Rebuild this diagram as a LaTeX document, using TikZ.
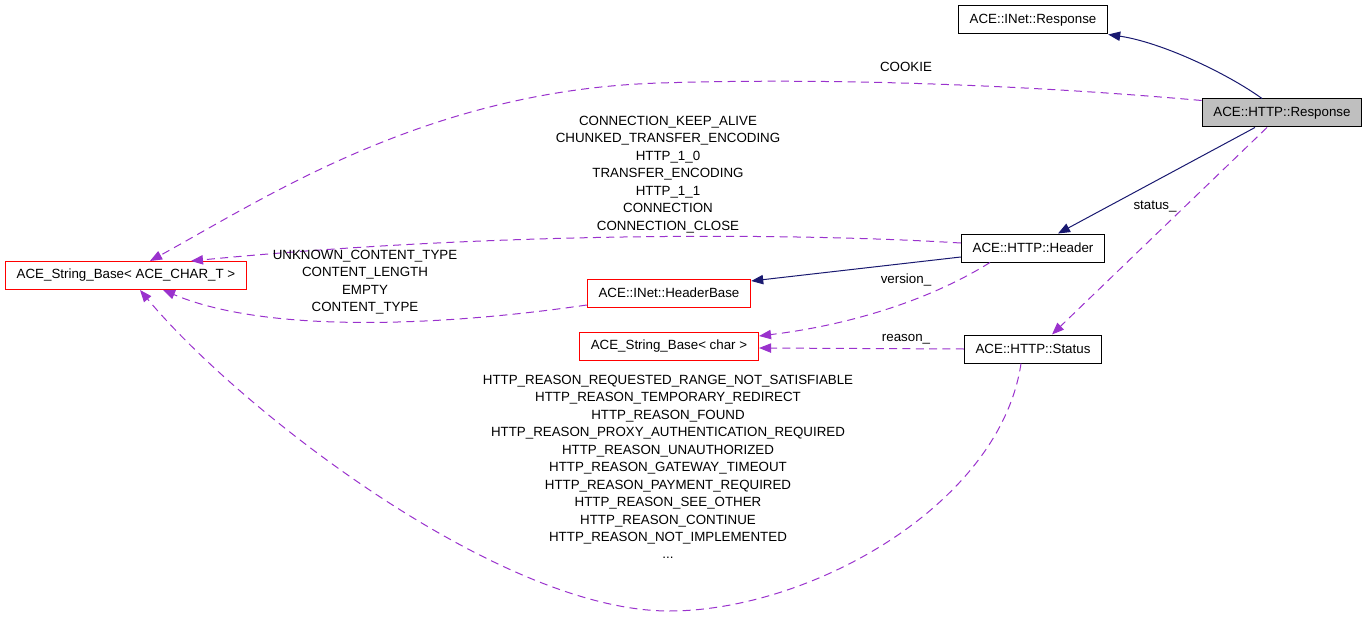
\documentclass[tikz,border=0pt]{standalone}
\usepackage{fontspec}
\setmainfont{Liberation Sans}
\usetikzlibrary{
  arrows.meta,
  calc
}
\definecolor{edgenavy}{RGB}{25,25,112}
\definecolor{edgeorchid}{RGB}{154,50,205}
\definecolor{boxgray}{RGB}{191,191,191}
\tikzset{
  classbox/.style={
    draw,
    line width=0.75pt,
    inner xsep=8.5pt,
    inner ysep=0pt,
    minimum height=21pt,
    font=\fontsize{10}{12}\selectfont
  },
  missing class/.style={
    classbox,
    draw=red
  },
  this class/.style={
    classbox,
    fill=boxgray
  },
  inherit edge/.style={
    draw=edgenavy,
    line width=0.75pt,
    -{Triangle[length=9pt,width=7pt,fill=edgenavy]}
  },
  member edge/.style={
    draw=edgeorchid,
    line width=0.75pt,
    dash pattern=on 6pt off 4pt,
    -{Triangle[length=9pt,width=7pt,fill=edgeorchid]}
  },
  edge label/.style={
    align=center,
    inner sep=0pt,
    font=\fontsize{10}{13.1}\selectfont
  }
}

\begin{document}
\begin{tikzpicture}[x=0.75pt, y=-0.75pt]
  \useasboundingbox (0,0) rectangle (1368,617);
  % classes
  \node[classbox] (inetresp) at (1033,20) {ACE::INet::Response};
  \node[this class] (httpresp) at (1282,113) {ACE::HTTP::Response};
  \node[classbox] (httpheader) at (1033,248) {ACE::HTTP::Header};
  \node[classbox] (httpstatus) at (1033,349) {ACE::HTTP::Status};
  \node[missing class] (headerbase) at (669,293) {ACE::INet::HeaderBase};
  \node[missing class] (strchar) at (669,346) {ACE\_String\_Base< char >};
  \node[missing class] (strbase) at (126,275.5) {ACE\_String\_Base< ACE\_CHAR\_T >};
  % inheritance
  \draw[inherit edge] ($(httpresp.north)+(-20,0)$) .. controls (1225,72) and (1160,42) .. (inetresp.south east);
  \draw[inherit edge] ($(httpresp.south)+(-27,0)$) -- ($(httpheader.north)+(25,0)$);
  \draw[inherit edge] ($(httpheader.west)+(0,9)$) -- ($(headerbase.east)+(0,-12)$);
  % members
  \draw[member edge] ($(httpresp.north west)+(0,2)$) .. controls (1050,87) and (850,77) .. (660,83)
    .. controls (430,90) and (270,195) .. ($(strbase.north)+(24,0)$);
  \draw[member edge] ($(httpresp.south)+(-15,0)$) -- ($(httpstatus.north)+(19,0)$);
  \draw[member edge] ($(httpheader.west)+(0,-5)$) .. controls (800,233) and (500,231) .. ($(strbase.north)+(65,0)$);
  \draw[member edge] ($(httpheader.south)+(-43,0)$) .. controls (930,300) and (850,325) .. ($(strchar.east)+(0,-10)$);
  \draw[member edge] (httpstatus.west) -- ($(strchar.east)+(0,2)$);
  \draw[member edge] ($(headerbase.west)+(0,12)$) .. controls (450,325) and (270,335) .. ($(strbase.south)+(37,0)$);
  \draw[member edge] ($(httpstatus.south)+(-12,0)$) .. controls (1000,505) and (810,611) .. (669,611)
    .. controls (500,611) and (240,410) .. ($(strbase.south)+(14,0)$);
  % labels
  \node[edge label] (lcookie) at (906,67) {COOKIE};
  \node[edge label] (lheader) at (668,174.5) {CONNECTION\_KEEP\_ALIVE\\CHUNKED\_TRANSFER\_ENCODING\\HTTP\_1\_0\\TRANSFER\_ENCODING\\HTTP\_1\_1\\CONNECTION\\CONNECTION\_CLOSE};
  \node[edge label] (lheaderbase) at (365,282) {UNKNOWN\_CONTENT\_TYPE\\CONTENT\_LENGTH\\EMPTY\\CONTENT\_TYPE};
  \node[edge label] (lstatus) at (1155,207) {status\_};
  \node[edge label] (lversion) at (906,280) {version\_};
  \node[edge label] (lreason) at (906,339) {reason\_};
  \node[edge label] (lreasons) at (668,467) {HTTP\_REASON\_REQUESTED\_RANGE\_NOT\_SATISFIABLE\\HTTP\_REASON\_TEMPORARY\_REDIRECT\\HTTP\_REASON\_FOUND\\HTTP\_REASON\_PROXY\_AUTHENTICATION\_REQUIRED\\HTTP\_REASON\_UNAUTHORIZED\\HTTP\_REASON\_GATEWAY\_TIMEOUT\\HTTP\_REASON\_PAYMENT\_REQUIRED\\HTTP\_REASON\_SEE\_OTHER\\HTTP\_REASON\_CONTINUE\\HTTP\_REASON\_NOT\_IMPLEMENTED\\...};
\end{tikzpicture}
\end{document}
